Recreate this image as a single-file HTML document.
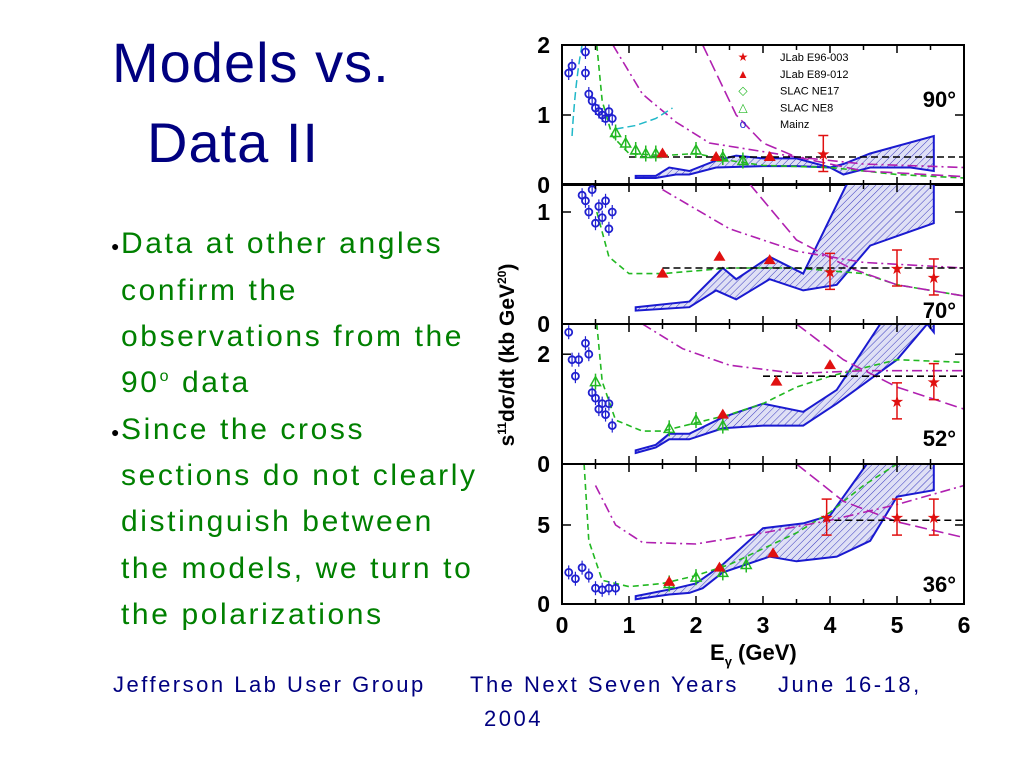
<!DOCTYPE html>
<html><head><meta charset="utf-8">
<style>
html,body{margin:0;padding:0;background:#fff;}
body{width:1023px;height:767px;position:relative;overflow:hidden;font-family:"Liberation Sans",sans-serif;}
.t{position:absolute;color:#000080;font-size:56px;white-space:nowrap;letter-spacing:1px;}
.b{position:absolute;left:121px;color:#008000;font-size:30px;letter-spacing:2.6px;white-space:nowrap;}
.dot{position:absolute;left:111px;color:#000;font-size:14px;}
.f{position:absolute;color:#000080;font-size:22px;letter-spacing:2.5px;white-space:nowrap;}
</style></head><body>
<div class="t" style="left:112px;top:30px;">Models vs.</div>
<div class="t" style="left:147px;top:110px;">Data II</div>
<div class="dot" style="top:238px">●</div>
<div class="dot" style="top:424px">●</div>
<div>
<div class="b" style="top:227px">Data at other angles</div>
<div class="b" style="top:274px">confirm the</div>
<div class="b" style="top:320px">observations from the</div>
<div class="b" style="top:366px">90<sup style="font-size:16px">o</sup> data</div>
<div class="b" style="top:413px">Since the cross</div>
<div class="b" style="top:459px">sections do not clearly</div>
<div class="b" style="top:505px">distinguish between</div>
<div class="b" style="top:552px">the models, we turn to</div>
<div class="b" style="top:598px">the polarizations</div>
</div>
<div class="f" style="left:113px;top:672px">Jefferson Lab User Group</div>
<div class="f" style="left:470px;top:672px">The Next Seven Years</div>
<div class="f" style="left:778px;top:672px">June 16-18,</div>
<div class="f" style="left:484px;top:706px">2004</div>
<svg id="ch" width="1023" height="767" style="position:absolute;left:0;top:0"></svg>
<script>
const xTicks=[0,1,2,3,4,5,6];
const angles=["90°","70°","52°","36°"];
const yMax=[2,1.25,2.55,8.86];
const yTickLabels=[[0,1,2],[0,1],[0,2],[0,5]];
const bandUpper=[
[[1.1,0.13],[1.4,0.13],[1.6,0.25],[1.9,0.2],[2.3,0.35],[2.6,0.42],[3.0,0.38],[3.5,0.38],[4.0,0.25],[4.2,0.3],[4.6,0.45],[5.55,0.7]],
[[1.1,0.15],[1.9,0.2],[2.4,0.5],[2.6,0.4],[3.1,0.6],[3.6,0.45],[4.25,1.25],[5.55,1.25]],
[[1.1,0.25],[1.4,0.35],[1.6,0.55],[1.9,0.55],[2.4,0.85],[3.0,1.1],[3.6,0.95],[4.1,1.35],[4.75,2.55],[5.55,2.55]],
[[1.1,0.5],[1.7,1.0],[2.0,1.3],[2.4,2.5],[3.0,4.8],[3.6,5.1],[4.0,5.6],[4.55,8.86],[5.55,8.86]]];
const bandLower=[
[[1.1,0.1],[1.4,0.1],[1.7,0.15],[1.9,0.15],[2.3,0.25],[3.0,0.27],[3.5,0.27],[4.0,0.25],[4.2,0.15],[4.6,0.25],[5.2,0.25],[5.55,0.2]],
[[1.1,0.12],[1.9,0.15],[2.3,0.3],[2.6,0.22],[3.1,0.4],[3.6,0.3],[4.1,0.35],[4.6,0.7],[5.55,0.9]],
[[1.1,0.2],[1.4,0.3],[1.6,0.45],[1.9,0.45],[2.4,0.65],[3.0,0.7],[3.6,0.7],[4.1,1.1],[5.0,1.9],[5.45,2.55],[5.55,2.4]],
[[1.1,0.3],[1.6,0.6],[1.9,0.7],[2.1,1.0],[2.4,2.0],[3.1,3.0],[3.5,2.7],[4.1,3.0],[4.6,4.0],[5.0,6.8],[5.55,7.2]]];
const greenCurve=[
[[0.52,2],[0.6,1.2],[0.75,0.7],[1.0,0.45],[1.5,0.42],[2.0,0.45],[2.5,0.35],[3,0.28],[4,0.25],[5,0.15],[6,0.1]],
[[0.52,1.0],[0.7,0.6],[1.0,0.45],[1.5,0.45],[2.5,0.5],[3.5,0.5],[4.5,0.45],[5,0.35],[6,0.25]],
[[0.52,2.55],[0.6,1.5],[0.8,0.8],[1.2,0.6],[1.5,0.6],[2,0.75],[2.5,0.9],[3,1.1],[3.5,1.4],[4,1.6],[4.5,1.75],[5,1.9],[6,1.85]],
[[0.33,8.86],[0.4,4],[0.6,1.5],[1.0,1.1],[1.5,1.3],[2,1.8],[2.5,2.5],[3,3.5],[3.5,4.5],[4,5.8],[4.5,7.5],[5,8.86]]];
const magentaDashDot=[
[[0.76,2],[1.2,1.3],[1.7,0.9],[2.2,0.6],[3.5,0.4],[4.5,0.3],[6,0.25]],
[[1.5,1.2],[2.5,0.85],[3.5,0.65],[4.5,0.55],[6,0.5]],
[[1.2,2.55],[1.8,2.1],[2.5,1.8],[3.5,1.65],[4.5,1.7],[6,1.7]],
[[0.5,7.5],[0.8,5],[1.2,3.9],[2,3.8],[3,4.5],[4,5.3],[5,6.3],[6,7.5]]];
const magentaDashed=[
[[2.1,2],[2.6,1.0],[3.0,0.6],[3.5,0.4],[4.5,0.2],[6,0.12]],
[[2.8,1.25],[3.5,0.75],[4.3,0.5],[5,0.35],[6,0.25]],
[[3.5,2.55],[4.2,1.9],[5,1.4],[6,1.0]],
[[3.5,8.86],[4.2,6.5],[5,5.2],[6,4.2]]];
const blackDashed=[[1.0,0.4],[1.5,0.5],[3.0,1.6],[3.9,5.3]];
const redTri=[[[1.5,0.45],[2.3,0.4],[3.1,0.4]],[[1.5,0.45],[2.35,0.6],[3.1,0.57]],[[2.4,0.9],[3.2,1.5],[4.0,1.8]],[[1.6,1.4],[2.35,2.3],[3.15,3.2]]];
const redStar=[[[3.9,0.45]],[[4.0,0.47],[5.0,0.5],[5.55,0.42]],[[5.0,1.15],[5.55,1.5]],[[3.95,5.5],[5.0,5.5],[5.55,5.5]]];
const greenPts=[[[0.8,0.75],[0.95,0.6],[1.1,0.5],[1.25,0.45],[1.4,0.45],[2.0,0.5],[2.4,0.4],[2.7,0.35]],[],[[0.5,1.5],[1.6,0.65],[2.0,0.8],[2.4,0.7]],[[1.6,1.3],[2.0,1.7],[2.4,2.0],[2.75,2.5]]];
const bluePts=[[[0.1,1.6],[0.15,1.7],[0.35,1.9],[0.35,1.6],[0.4,1.3],[0.45,1.2],[0.5,1.1],[0.55,1.05],[0.6,1.0],[0.65,0.95],[0.7,1.05],[0.75,0.95]],
[[0.3,1.15],[0.35,1.1],[0.4,1.0],[0.45,1.2],[0.5,0.9],[0.55,1.05],[0.6,0.95],[0.65,1.1],[0.7,0.85],[0.75,1.0]],
[[0.1,2.4],[0.15,1.9],[0.2,1.6],[0.25,1.9],[0.35,2.2],[0.4,2.0],[0.45,1.3],[0.5,1.2],[0.55,1.0],[0.6,1.1],[0.65,0.9],[0.7,1.1],[0.75,0.7]],
[[0.1,2.0],[0.2,1.6],[0.3,2.3],[0.4,1.8],[0.5,1.0],[0.6,0.9],[0.7,1.0],[0.8,1.0]]];
const legendLabels=["JLab  E96-003","JLab  E89-012","SLAC  NE17","SLAC  NE8","Mainz"];

const svg=document.getElementById('ch');const NS='http://www.w3.org/2000/svg';
const L=562,R=964,PT=[45,184,324,464],PH=140;
const xs=e=>L+(R-L)*e/6;
function ys(i,v){return PT[i]+PH-PH*Math.min(v,yMax[i])/yMax[i];}
function el(t,a,p){const e=document.createElementNS(NS,t);for(const k in a)e.setAttribute(k,a[k]);(p||svg).appendChild(e);return e;}
const defs=el('defs',{});
const pat=el('pattern',{id:'hatch',width:5,height:5,patternUnits:'userSpaceOnUse',patternTransform:'rotate(45)'},defs);
el('rect',{width:5,height:5,fill:'#dfe0f5'},pat);el('line',{x1:0,y1:0,x2:0,y2:5,stroke:'#3a3ac0','stroke-width':1},pat);
function pts(i,a){return a.map(p=>xs(p[0]).toFixed(1)+','+ys(i,p[1]).toFixed(1)).join(' ');}
for(let i=0;i<4;i++){
 const g=el('g',{});
 
 
 const cp=el('clipPath',{id:'c'+i},defs);el('rect',{x:L,y:PT[i],width:R-L,height:PH},cp);
 const inner=el('g',{'clip-path':'url(#c'+i+')'},g);
 const band=el('polygon',{points:pts(i,bandUpper[i].concat(bandLower[i].slice().reverse())),fill:'url(#hatch)',stroke:'#1a1ad0','stroke-width':2},inner);
 
 
 const gc=el('polyline',{points:pts(i,greenCurve[i]),fill:'none',stroke:'#22b822','stroke-width':1.6,'stroke-dasharray':'6,4'},inner);
 
 
 const md=el('polyline',{points:pts(i,magentaDashDot[i]),fill:'none',stroke:'#b020b0','stroke-width':1.6,'stroke-dasharray':'10,4,2,4'},inner);
 
 
 const mk=el('polyline',{points:pts(i,magentaDashed[i]),fill:'none',stroke:'#b020b0','stroke-width':1.6,'stroke-dasharray':'12,5'},inner);
 
 
 const bd=el('line',{x1:xs(blackDashed[i][0]),x2:R,y1:ys(i,blackDashed[i][1]),y2:ys(i,blackDashed[i][1]),stroke:'#000','stroke-width':1.6,'stroke-dasharray':'7,4'},inner);
 
 
 if(i===0){el('path',{d:'M'+xs(0.15)+','+ys(0,0.7)+' Q'+xs(0.2)+','+ys(0,1.5)+' '+xs(0.3)+','+ys(0,2),fill:'none',stroke:'#20b8c8','stroke-width':1.5,'stroke-dasharray':'8,4'},inner);
  el('polyline',{points:pts(0,[[0.8,0.8],[1.1,0.85],[1.4,0.95],[1.65,1.1]]),fill:'none',stroke:'#20b8c8','stroke-width':1.5,'stroke-dasharray':'8,4'},inner);}
 bluePts[i].forEach(p=>{const c=el('circle',{cx:xs(p[0]),cy:ys(i,p[1]),r:3.5,fill:'none',stroke:'#2020d0','stroke-width':1.8},inner);
  
  
  el('line',{x1:xs(p[0]),x2:xs(p[0]),y1:ys(i,p[1])-7,y2:ys(i,p[1])+7,stroke:'#2020d0','stroke-width':1.2},inner);});
 greenPts[i].forEach(p=>{const c=el('polygon',{points:(xs(p[0]))+','+(ys(i,p[1])-5)+' '+(xs(p[0])+5)+','+(ys(i,p[1])+4)+' '+(xs(p[0])-5)+','+(ys(i,p[1])+4),fill:'none',stroke:'#22b822','stroke-width':1.5},inner);
  
  
  el('line',{x1:xs(p[0]),x2:xs(p[0]),y1:ys(i,p[1])-8,y2:ys(i,p[1])+8,stroke:'#22b822','stroke-width':1.5},inner);});
 redTri[i].forEach(p=>{const c=el('polygon',{points:(xs(p[0]))+','+(ys(i,p[1])-6)+' '+(xs(p[0])+6)+','+(ys(i,p[1])+4)+' '+(xs(p[0])-6)+','+(ys(i,p[1])+4),fill:'#e01010'},inner);
  
  });
 redStar[i].forEach(p=>{const x=xs(p[0]),y=ys(i,p[1]);
  el('line',{x1:x,x2:x,y1:y-18,y2:y+18,stroke:'#e01010','stroke-width':1.5},inner);
  el('line',{x1:x-5,x2:x+5,y1:y-18,y2:y-18,stroke:'#e01010','stroke-width':1.5},inner);
  el('line',{x1:x-5,x2:x+5,y1:y+18,y2:y+18,stroke:'#e01010','stroke-width':1.5},inner);
  const s=el('text',{x:x,y:y+6,'text-anchor':'middle','font-size':16,fill:'#e01010'},inner);s.textContent='★';
  
  });
 el('rect',{x:L,y:PT[i],width:R-L,height:PH,fill:'none',stroke:'#000','stroke-width':2},g);
 for(let e=0;e<=6;e+=0.5){const len=e%1===0?8:5;el('line',{x1:xs(e),x2:xs(e),y1:PT[i],y2:PT[i]+len,stroke:'#000','stroke-width':1.5},g);el('line',{x1:xs(e),x2:xs(e),y1:PT[i]+PH,y2:PT[i]+PH-len,stroke:'#000','stroke-width':1.5},g);}
 yTickLabels[i].forEach(v=>{const y=ys(i,v);el('line',{x1:L,x2:L+9,y1:y,y2:y,stroke:'#000','stroke-width':1.5},g);el('line',{x1:R,x2:R-9,y1:y,y2:y,stroke:'#000','stroke-width':1.5},g);
  const t=el('text',{x:550,y:y+8,'text-anchor':'end','font-size':23,'font-weight':'bold',fill:'#000'},g);t.textContent=v;
  
  });
 const at=el('text',{x:956,y:PT[i]+(i===0?62:i===1?134:i===2?122:128),'text-anchor':'end','font-size':22,'font-weight':'bold',fill:'#000'},g);at.textContent=angles[i];
 
 
}
xTicks.forEach(e=>{const t=el('text',{x:xs(e),y:633,'text-anchor':'middle','font-size':23,'font-weight':'bold',fill:'#000'});t.textContent=e;
 
 });
const xt=el('text',{x:710,y:660,'font-size':22,'font-weight':'bold',fill:'#000'});xt.innerHTML='E<tspan font-size="13" dy="6">γ</tspan><tspan dy="-6">  (GeV)</tspan>';


const yt=el('text',{x:0,y:0,transform:'translate(514,355) rotate(-90)','text-anchor':'middle','font-size':21,'font-weight':'bold',fill:'#000'});yt.innerHTML='s<tspan font-size="12" dy="-8">11</tspan><tspan dy="8">dσ/dt  (kb GeV</tspan><tspan font-size="12" dy="-8">20</tspan><tspan dy="8">)</tspan>';


const sym=['★','▲','◇','△','o'],col=['#e01010','#e01010','#22b822','#22b822','#2020d0'];
legendLabels.forEach((s,k)=>{const y=61+k*16.8;
 const a=el('text',{x:743,y:y,'text-anchor':'middle','font-size':12,fill:col[k]});a.textContent=sym[k];
 
 
 const b=el('text',{x:780,y:y,'font-size':11,fill:'#000'});b.textContent=s;
 
 });
</script>
</body></html>
